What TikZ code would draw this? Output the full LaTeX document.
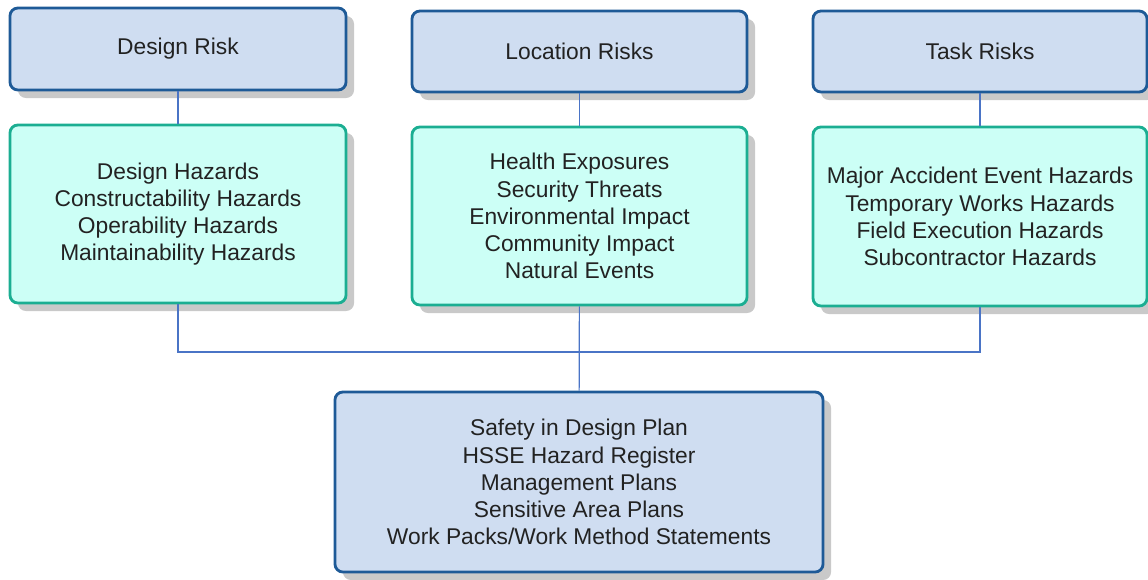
\documentclass[tikz,border=0pt]{standalone}
\usepackage{fontspec}
\setmainfont{Liberation Sans}
\usepackage{tikz}
\usetikzlibrary{positioning}
\usetikzlibrary{shadows}

\definecolor{riskfill}{HTML}{CFDDF1}
\definecolor{riskdraw}{HTML}{1E5A97}
\definecolor{hazfill}{HTML}{CCFFF6}
\definecolor{hazdraw}{HTML}{1BAE92}
\definecolor{linkcol}{HTML}{4A74C6}
\definecolor{boxshadow}{HTML}{C9C9C9}
\definecolor{txtcol}{HTML}{222222}

\tikzset{
	riskbox/.style={draw=riskdraw, fill=riskfill, line width=2pt, rounded corners=0.2cm,
		align=center, text=txtcol, font=\fontsize{16.2}{19.3}\selectfont,
		drop shadow={shadow xshift=0.2cm, shadow yshift=-0.2cm, fill=boxshadow, opacity=1}},
	hazbox/.style={riskbox, draw=hazdraw, fill=hazfill},
	link/.style={draw=linkcol, line width=0.8pt}
}

\begin{document}
\begin{tikzpicture}[x=0.025cm, y=-0.025cm]
	\useasboundingbox (0,0) rectangle (1148,579);
	
	% RISK HEADERS
	\node[riskbox, minimum width=8.4cm, minimum height=2.05cm] (design) at (178, 49) {Design Risk};
	\node[riskbox, minimum width=8.375cm, minimum height=2.025cm] (location) at (579.5, 51.5) {Location Risks};
	\node[riskbox, minimum width=8.35cm, minimum height=2.025cm] (task) at (980, 51.5) {Task Risks};
	
	% HAZARD BOXES
	\node[hazbox, minimum width=8.4cm, minimum height=4.45cm] (designHaz) at (178, 214) {Design Hazards\\Constructability Hazards\\Operability Hazards\\Maintainability Hazards};
	\node[hazbox, minimum width=8.375cm, minimum height=4.45cm] (locationHaz) at (579.5, 216) {Health Exposures\\Security Threats\\Environmental Impact\\Community Impact\\Natural Events};
	\node[hazbox, minimum width=8.35cm, minimum height=4.475cm] (taskHaz) at (980, 216.5) {Major Accident Event Hazards\\Temporary Works Hazards\\Field Execution Hazards\\Subcontractor Hazards};
	
	% PLANS
	\node[riskbox, minimum width=12.2cm, minimum height=4.5cm] (plans) at (579, 482) {Safety in Design Plan\\HSSE Hazard Register\\Management Plans\\Sensitive Area Plans\\Work Packs/Work Method Statements};
	
	\coordinate (join) at (579.5, 352);
	
	% LINKS
	\draw[link] (design) -- (designHaz);
	\draw[link] (location) -- (locationHaz);
	\draw[link] (task) -- (taskHaz);
	\draw[link] (designHaz.south) |- (join) -| (taskHaz.south);
	\draw[link] (locationHaz) -- (plans);
\end{tikzpicture}
\end{document}
